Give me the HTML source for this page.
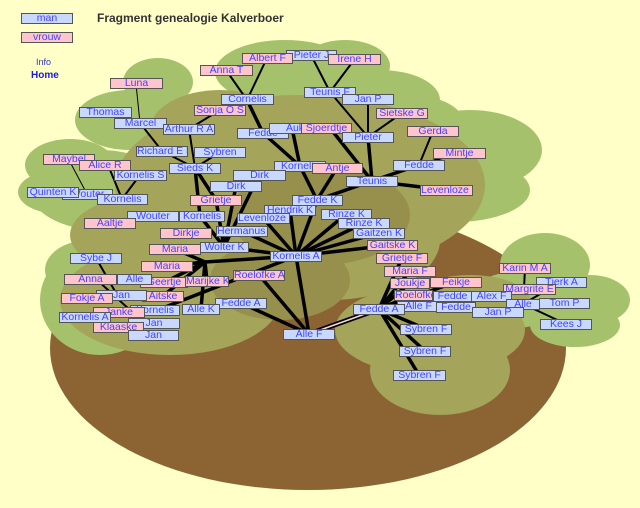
<!DOCTYPE html>
<html><head><meta charset="utf-8"><style>
body{margin:0;background:#ffffc8;width:640px;height:508px;overflow:hidden;position:relative;font-family:"Liberation Sans",sans-serif}
.b,.p{position:absolute;height:11px;box-sizing:border-box;border:1px solid #555;font-size:10.5px;line-height:9px;text-align:center;color:#4444ff;white-space:nowrap;overflow:hidden;background:#c8d8ff}
.p{background:#ffc4cc}
svg{position:absolute;left:0;top:0}
</style></head><body>
<svg width="640" height="508">
<ellipse cx="308" cy="348" rx="258" ry="142" fill="#8c6434"/>
<g fill="#a6c16c">
<ellipse cx="285" cy="72" rx="70" ry="32"/><ellipse cx="345" cy="66" rx="45" ry="26"/>
<ellipse cx="158" cy="82" rx="35" ry="24"/><ellipse cx="130" cy="120" rx="55" ry="30"/>
<ellipse cx="70" cy="165" rx="45" ry="26"/><ellipse cx="60" cy="192" rx="42" ry="22"/>
<ellipse cx="100" cy="190" rx="70" ry="40"/>
<ellipse cx="470" cy="150" rx="72" ry="40"/><ellipse cx="455" cy="190" rx="75" ry="32"/>
<ellipse cx="380" cy="100" rx="60" ry="30"/><ellipse cx="410" cy="125" rx="55" ry="30"/>
<ellipse cx="100" cy="300" rx="60" ry="55"/><ellipse cx="90" cy="270" rx="45" ry="30"/>
<ellipse cx="545" cy="265" rx="45" ry="32"/><ellipse cx="590" cy="300" rx="40" ry="25"/><ellipse cx="575" cy="325" rx="45" ry="22"/><ellipse cx="515" cy="300" rx="45" ry="28"/>
</g>
<g fill="#a4a45a">
<ellipse cx="300" cy="185" rx="185" ry="90"/><ellipse cx="220" cy="130" rx="70" ry="40"/>
<ellipse cx="150" cy="235" rx="80" ry="40"/><ellipse cx="170" cy="300" rx="110" ry="55"/>
<ellipse cx="430" cy="330" rx="95" ry="45"/><ellipse cx="440" cy="370" rx="70" ry="45"/>
<ellipse cx="470" cy="300" rx="60" ry="25"/><ellipse cx="330" cy="240" rx="110" ry="60"/>
</g>
<g fill="#96904c">
<ellipse cx="320" cy="215" rx="90" ry="50"/><ellipse cx="280" cy="280" rx="70" ry="40"/>
</g>
<g stroke="#000" stroke-width="3.5" stroke-linecap="round">
<line x1="309" y1="334" x2="296" y2="256"/><line x1="309" y1="334" x2="241" y2="303"/><line x1="309" y1="334" x2="259" y2="275"/>
<line x1="296" y1="256" x2="224" y2="247"/><line x1="296" y1="256" x2="242" y2="231"/><line x1="296" y1="256" x2="263" y2="218"/>
<line x1="296" y1="256" x2="290" y2="210"/><line x1="296" y1="256" x2="317" y2="200"/><line x1="296" y1="256" x2="346" y2="214"/>
<line x1="296" y1="256" x2="364" y2="223"/><line x1="296" y1="256" x2="379" y2="233"/><line x1="296" y1="256" x2="392" y2="245"/>
<line x1="296" y1="256" x2="205" y2="262"/><line x1="205" y1="262" x2="175" y2="249"/><line x1="205" y1="262" x2="167" y2="266"/>
<line x1="205" y1="262" x2="207" y2="281"/><line x1="205" y1="262" x2="165" y2="282"/><line x1="205" y1="262" x2="163" y2="296"/>
<line x1="205" y1="262" x2="201" y2="309"/><line x1="296" y1="256" x2="155" y2="311"/><line x1="224" y1="247" x2="216" y2="200"/>
<line x1="224" y1="247" x2="236" y2="186"/><line x1="224" y1="247" x2="259" y2="175"/><line x1="224" y1="247" x2="200" y2="216"/>
<line x1="317" y1="200" x2="300" y2="166"/><line x1="317" y1="200" x2="337" y2="168"/><line x1="317" y1="200" x2="372" y2="181"/>
<line x1="300" y1="166" x2="263" y2="133"/><line x1="300" y1="166" x2="292" y2="128"/><line x1="263" y1="133" x2="247" y2="100"/>
<line x1="372" y1="181" x2="368" y2="137"/><line x1="372" y1="181" x2="330" y2="128"/><line x1="372" y1="181" x2="419" y2="165"/><line x1="372" y1="181" x2="446" y2="190"/>
<line x1="216" y1="200" x2="195" y2="168"/><line x1="200" y1="216" x2="195" y2="168"/>
<line x1="379" y1="309" x2="426" y2="329"/><line x1="379" y1="309" x2="425" y2="351"/><line x1="379" y1="309" x2="419" y2="375"/>
<line x1="379" y1="309" x2="402" y2="258"/><line x1="379" y1="309" x2="410" y2="271"/><line x1="379" y1="309" x2="410" y2="283"/>
<line x1="379" y1="309" x2="456" y2="282"/><line x1="379" y1="309" x2="413" y2="295"/><line x1="379" y1="309" x2="418" y2="306"/>
</g>
<g stroke="#000" stroke-width="2" stroke-linecap="round">
<line x1="195" y1="168" x2="220" y2="152"/><line x1="195" y1="168" x2="189" y2="129"/><line x1="195" y1="168" x2="162" y2="151"/>
<line x1="189" y1="129" x2="220" y2="110"/><line x1="162" y1="151" x2="140" y2="123"/><line x1="247" y1="100" x2="226" y2="70"/><line x1="247" y1="100" x2="267" y2="58"/>
<line x1="368" y1="137" x2="330" y2="92"/><line x1="368" y1="137" x2="368" y2="99"/><line x1="368" y1="137" x2="402" y2="113"/>
<line x1="330" y1="92" x2="311" y2="55"/><line x1="330" y1="92" x2="354" y2="60"/><line x1="419" y1="165" x2="433" y2="131"/><line x1="419" y1="165" x2="459" y2="153"/>
<line x1="122" y1="199" x2="108" y2="165"/><line x1="122" y1="199" x2="140" y2="175"/><line x1="96" y1="279" x2="130" y2="310"/><line x1="96" y1="258" x2="120" y2="300"/>
<line x1="524" y1="289" x2="525" y2="268"/><line x1="523" y1="304" x2="561" y2="282"/><line x1="523" y1="304" x2="566" y2="324"/>
</g>
<g stroke="#000" stroke-width="1" stroke-linecap="round">
<line x1="140" y1="123" x2="136" y2="84"/><line x1="69" y1="160" x2="87" y2="194"/>
</g>
<line x1="309" y1="334" x2="379" y2="309" stroke="#000" stroke-width="5"/>
<line x1="309" y1="334" x2="379" y2="309" stroke="#f8d8e0" stroke-width="1.5"/>
</svg>
<div class="b" style="left:21px;top:13px;width:52px">man</div>
<div class="p" style="left:21px;top:32px;width:52px">vrouw</div>
<div style="position:absolute;left:97px;top:11px;font-size:12px;font-weight:bold;color:#333">Fragment genealogie Kalverboer</div>
<div style="position:absolute;left:36px;top:57px;font-size:9px;color:#3333cc">Info</div>
<div style="position:absolute;left:31px;top:70px;font-size:10px;font-weight:bold;color:#1a1ae0">Home</div>

<div class="b" style="left:286px;top:50px;width:51px">Pieter J</div>
<div class="p" style="left:242px;top:53px;width:51px">Albert F</div>
<div class="p" style="left:328px;top:54px;width:53px">Irene H</div>
<div class="p" style="left:200px;top:65px;width:53px">Anna T</div>
<div class="p" style="left:110px;top:78px;width:53px">Luna</div>
<div class="b" style="left:304px;top:87px;width:52px">Teunis F</div>
<div class="b" style="left:221px;top:94px;width:53px">Cornelis</div>
<div class="b" style="left:342px;top:94px;width:52px">Jan P</div>
<div class="p" style="left:194px;top:105px;width:52px">Sonja O S</div>
<div class="b" style="left:79px;top:107px;width:53px">Thomas</div>
<div class="p" style="left:376px;top:108px;width:52px">Sietske G</div>
<div class="b" style="left:114px;top:118px;width:53px">Marcel</div>
<div class="b" style="left:163px;top:124px;width:52px">Arthur R A</div>
<div class="b" style="left:237px;top:128px;width:52px">Fedde</div>
<div class="b" style="left:269px;top:123px;width:52px">Auk</div>
<div class="p" style="left:301px;top:123px;width:51px">Sjoerdtje</div>
<div class="p" style="left:407px;top:126px;width:52px">Gerda</div>
<div class="b" style="left:342px;top:132px;width:52px">Pieter</div>
<div class="b" style="left:136px;top:146px;width:52px">Richard E R</div>
<div class="b" style="left:194px;top:147px;width:52px">Sybren</div>
<div class="p" style="left:433px;top:148px;width:53px">Mintje</div>
<div class="p" style="left:43px;top:154px;width:52px">Maybel</div>
<div class="p" style="left:79px;top:160px;width:52px">Alice R</div>
<div class="b" style="left:393px;top:160px;width:52px">Fedde</div>
<div class="b" style="left:274px;top:161px;width:52px">Kornelis</div>
<div class="b" style="left:169px;top:163px;width:52px">Sieds K</div>
<div class="p" style="left:312px;top:163px;width:51px">Antje</div>
<div class="b" style="left:114px;top:170px;width:53px">Kornelis S</div>
<div class="b" style="left:233px;top:170px;width:53px">Dirk</div>
<div class="b" style="left:346px;top:176px;width:52px">Teunis</div>
<div class="b" style="left:210px;top:181px;width:52px">Dirk</div>
<div class="p" style="left:420px;top:185px;width:53px">Levenloze d</div>
<div class="b" style="left:62px;top:189px;width:51px">Wouter</div>
<div class="b" style="left:27px;top:187px;width:52px">Quinten K</div>
<div class="b" style="left:97px;top:194px;width:51px">Kornelis</div>
<div class="p" style="left:190px;top:195px;width:52px">Grietje</div>
<div class="b" style="left:292px;top:195px;width:51px">Fedde K</div>
<div class="b" style="left:264px;top:205px;width:52px">Hendrik K</div>
<div class="b" style="left:321px;top:209px;width:51px">Rinze K</div>
<div class="b" style="left:127px;top:211px;width:52px">Wouter</div>
<div class="b" style="left:179px;top:211px;width:46px">Kornelis</div>
<div class="b" style="left:237px;top:213px;width:53px">Levenloze z</div>
<div class="b" style="left:338px;top:218px;width:52px">Rinze K</div>
<div class="p" style="left:84px;top:218px;width:52px">Aaltje</div>
<div class="b" style="left:216px;top:226px;width:52px">Hermanus K</div>
<div class="p" style="left:160px;top:228px;width:52px">Dirkje</div>
<div class="b" style="left:353px;top:228px;width:52px">Gaitzen K</div>
<div class="p" style="left:367px;top:240px;width:51px">Gaitske K</div>
<div class="b" style="left:200px;top:242px;width:49px">Wolter K</div>
<div class="p" style="left:149px;top:244px;width:52px">Maria</div>
<div class="b" style="left:270px;top:251px;width:52px">Kornelis A</div>
<div class="p" style="left:376px;top:253px;width:52px">Grietje F</div>
<div class="b" style="left:70px;top:253px;width:52px">Sybe J</div>
<div class="p" style="left:141px;top:261px;width:52px">Maria</div>
<div class="p" style="left:499px;top:263px;width:52px">Karin M A</div>
<div class="p" style="left:384px;top:266px;width:52px">Maria F</div>
<div class="p" style="left:233px;top:270px;width:52px">Roelofke A</div>
<div class="p" style="left:64px;top:274px;width:53px">Anna</div>
<div class="p" style="left:140px;top:277px;width:48px">Geertje</div>
<div class="b" style="left:117px;top:274px;width:35px">Alle</div>
<div class="p" style="left:185px;top:276px;width:44px">Marijke K</div>
<div class="b" style="left:536px;top:277px;width:51px">Tjerk A</div>
<div class="p" style="left:430px;top:277px;width:52px">Feikje</div>
<div class="p" style="left:390px;top:278px;width:40px">Joukje</div>
<div class="p" style="left:503px;top:284px;width:53px">Margrite E</div>
<div class="p" style="left:142px;top:291px;width:42px">Aitske</div>
<div class="b" style="left:96px;top:290px;width:51px">Jan</div>
<div class="p" style="left:61px;top:293px;width:52px">Fokje A</div>
<div class="b" style="left:433px;top:291px;width:39px">Fedde</div>
<div class="b" style="left:471px;top:291px;width:41px">Alex F</div>
<div class="p" style="left:394px;top:290px;width:39px">Roelofke</div>
<div class="b" style="left:215px;top:298px;width:52px">Fedde A</div>
<div class="b" style="left:539px;top:298px;width:51px">Tom P</div>
<div class="b" style="left:506px;top:299px;width:34px">Alle</div>
<div class="b" style="left:397px;top:301px;width:43px">Alle F</div>
<div class="b" style="left:436px;top:302px;width:40px">Fedde</div>
<div class="b" style="left:182px;top:304px;width:38px">Alle K</div>
<div class="b" style="left:353px;top:304px;width:52px">Fedde A</div>
<div class="b" style="left:130px;top:305px;width:50px">Kornelis</div>
<div class="p" style="left:93px;top:307px;width:52px">Janke</div>
<div class="b" style="left:472px;top:307px;width:52px">Jan P</div>
<div class="b" style="left:59px;top:312px;width:52px">Kornelis A</div>
<div class="b" style="left:128px;top:318px;width:52px">Jan</div>
<div class="b" style="left:540px;top:319px;width:52px">Kees J</div>
<div class="p" style="left:93px;top:322px;width:51px">Klaaske</div>
<div class="b" style="left:400px;top:324px;width:52px">Sybren F</div>
<div class="b" style="left:283px;top:329px;width:52px">Alle F</div>
<div class="b" style="left:128px;top:330px;width:51px">Jan</div>
<div class="b" style="left:399px;top:346px;width:52px">Sybren F</div>
<div class="b" style="left:393px;top:370px;width:53px">Sybren F</div>
</body></html>
